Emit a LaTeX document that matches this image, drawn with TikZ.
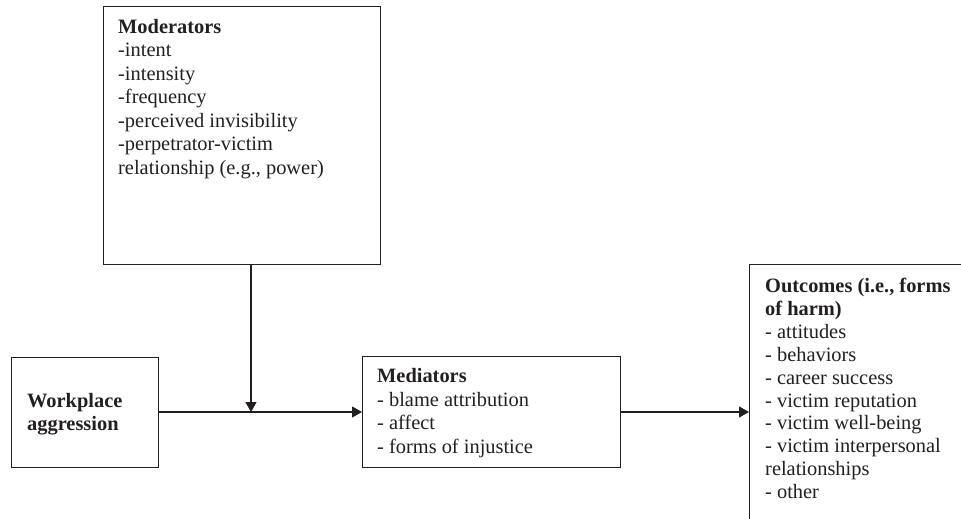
\documentclass[tikz,border=0pt]{standalone}
\usepackage{fontspec}
\setmainfont{Liberation Serif}
\usetikzlibrary{arrows.meta}
\definecolor{ink}{HTML}{231F20}
\begin{document}
\begin{tikzpicture}[x=1pt,y=-1pt,
  box/.style={draw=ink, line width=1.3pt, inner sep=0, anchor=north west},
  txt/.style={anchor=north west, inner sep=0, align=left, text=ink},
  conn/.style={draw=ink, line width=1.1pt, -{Triangle[length=10pt,width=11pt]}}]
\useasboundingbox (0,0) rectangle (961,519);
\clip (0,0) rectangle (961,519);
% boxes
\node[box, minimum width=277pt, minimum height=258pt] (mod) at (103,6) {};
\node[box, minimum width=147pt, minimum height=110pt] (wa) at (11,357) {};
\node[box, minimum width=258pt, minimum height=111pt] (med) at (362,356) {};
\node[box, minimum width=230pt, minimum height=280pt] (out) at (749,264) {};
% texts
\node[txt, font=\fontsize{20.4}{23.5}\selectfont] (modtxt) at (118,19)
  {\textbf{Moderators}\\-intent\\-intensity\\-frequency\\-perceived invisibility\\-perpetrator-victim\\relationship (e.g., power)};
\node[txt, font=\fontsize{20.4}{23}\selectfont\bfseries] (watxt) at (27,393)
  {Workplace\\aggression};
\node[txt, font=\fontsize{20.4}{23.8}\selectfont] (medtxt) at (377,368)
  {\textbf{Mediators}\\- blame attribution\\- affect\\- forms of injustice};
\node[txt, font=\fontsize{20.4}{22.9}\selectfont] (outtxt) at (765,278)
  {\textbf{Outcomes (i.e., forms}\\\textbf{of harm)}\\- attitudes\\- behaviors\\- career success\\- victim reputation\\- victim well-being\\- victim interpersonal\\relationships\\- other};
% connectors
\coordinate (j) at (251,412);
\draw[conn] (wa.east |- j) -- (med.west |- j);
\draw[conn] (mod.south -| j) -- (j);
\draw[conn] (med.east |- j) -- (out.west |- j);
\end{tikzpicture}
\end{document}
